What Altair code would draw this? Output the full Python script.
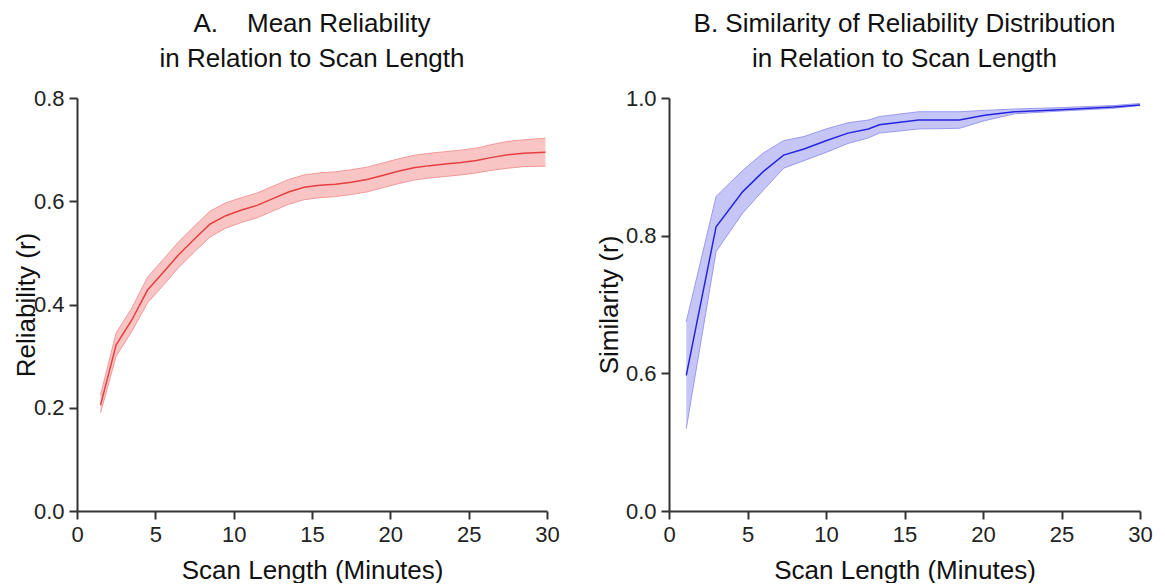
import altair as alt
import pandas as pd

# ---- Panel A: mean reliability ----
a_minutes = [1.5, 2.5, 3.5, 4.5, 5.5, 6.5, 7.5, 8.5, 9.5, 10.5, 11.5, 12.5, 13.5, 14.5,
             15.5, 16.5, 17.5, 18.5, 19.5, 20.5, 21.5, 22.5, 23.5, 24.5, 25.5, 26.5,
             27.5, 28.5, 29.9]
a_mean = [0.205, 0.322, 0.37, 0.428, 0.462, 0.497, 0.527, 0.556, 0.572, 0.583, 0.592,
          0.605, 0.618, 0.627, 0.631, 0.633, 0.637, 0.642, 0.65, 0.658, 0.665, 0.669,
          0.672, 0.675, 0.679, 0.685, 0.69, 0.693, 0.695]
a_lower = [0.19, 0.30, 0.348, 0.403, 0.437, 0.472, 0.502, 0.531, 0.548, 0.559, 0.568,
           0.581, 0.594, 0.603, 0.607, 0.609, 0.613, 0.618, 0.626, 0.634, 0.641, 0.645,
           0.648, 0.651, 0.655, 0.66, 0.664, 0.667, 0.668]
a_upper = [0.225, 0.345, 0.393, 0.453, 0.487, 0.522, 0.552, 0.581, 0.597, 0.607, 0.616,
           0.629, 0.642, 0.651, 0.655, 0.657, 0.661, 0.666, 0.674, 0.682, 0.689, 0.693,
           0.696, 0.699, 0.703, 0.71, 0.716, 0.719, 0.722]

# ---- Panel B: similarity of reliability distribution ----
b_minutes = [1.1, 3.0, 4.7, 6.0, 7.3, 8.6, 10.0, 11.4, 12.7, 13.4, 15.9, 18.5, 20.1,
             22.0, 24.9, 28.3, 30.0]
b_mean = [0.597, 0.813, 0.864, 0.893, 0.917, 0.926, 0.938, 0.949, 0.955, 0.961, 0.968,
          0.968, 0.975, 0.980, 0.983, 0.987, 0.990]
b_lower = [0.52, 0.777, 0.833, 0.866, 0.898, 0.909, 0.921, 0.934, 0.942, 0.949, 0.955,
           0.956, 0.967, 0.977, 0.981, 0.985, 0.989]
b_upper = [0.675, 0.857, 0.895, 0.92, 0.938, 0.944, 0.955, 0.964, 0.968, 0.973, 0.98,
           0.98, 0.982, 0.984, 0.986, 0.989, 0.992]

x_ticks = [0, 5, 10, 15, 20, 25, 30]
a_y_ticks = [0.0, 0.2, 0.4, 0.6, 0.8]
b_y_ticks = [0.4, 0.6, 0.8, 1.0]

FONT = "Liberation Sans"
H = 413

df_a = pd.DataFrame({"minutes": a_minutes, "mean": a_mean, "lower": a_lower, "upper": a_upper})
df_b = pd.DataFrame({"minutes": b_minutes, "mean": b_mean, "lower": b_lower, "upper": b_upper})


def panel(df, width, title_lines, y_title, y_scale, y_vals, label_expr, title_x,
          line_color, fill_color, edge_color):
    x_enc = alt.X("minutes:Q",
                  scale=alt.Scale(domain=[0, 30], nice=False, zero=False),
                  axis=alt.Axis(values=x_ticks, title="Scan Length (Minutes)",
                                titleY=67, titleBaseline="alphabetic"))
    y_axis = alt.Axis(values=y_vals, title=y_title, labelExpr=label_expr,
                      titleX=title_x, titleY=H / 2, titleBaseline="middle",
                      titleAngle=270)

    def yenc(field):
        return alt.Y(f"{field}:Q", scale=y_scale, axis=y_axis, title=y_title)

    base = alt.Chart(df)
    band = base.mark_area(color=fill_color, opacity=1).encode(
        x=x_enc, y=yenc("lower"), y2="upper:Q")
    lo = base.mark_line(color=edge_color, strokeWidth=1).encode(x=x_enc, y=yenc("lower"))
    hi = base.mark_line(color=edge_color, strokeWidth=1).encode(x=x_enc, y=yenc("upper"))
    mean = base.mark_line(color=line_color, strokeWidth=1.5).encode(x=x_enc, y=yenc("mean"))
    return alt.layer(band, lo, hi, mean).properties(
        width=width, height=H,
        title=alt.TitleParams(text=title_lines, fontSize=26, font=FONT,
                              fontWeight="normal", color="#111111",
                              lineHeight=35, anchor="middle", offset=15),
    )


pa = panel(df_a, 470,
           ["A.\u00a0\u00a0\u00a0 Mean Reliability", "in Relation to Scan Length"],
           "Reliability (r)",
           alt.Scale(domain=[0, 0.8], nice=False),
           a_y_ticks, "format(datum.value, '.1f')", -51,
           "#e3403f", "#f9c4c4", "#f29a9a")

pb = panel(df_b, 471,
           ["B. Similarity of Reliability Distribution", "in Relation to Scan Length"],
           "Similarity (r)",
           alt.Scale(domain=[0.4, 1.0], nice=False, zero=False),
           b_y_ticks, "datum.value < 0.5 ? '0.0' : format(datum.value, '.1f')", -60,
           "#2525e0", "#c6c6f6", "#9a9af0")

chart = alt.hconcat(pa, pb, spacing=36).properties(
    padding={"left": 5, "top": 3, "right": 0, "bottom": 0}
).configure_view(
    stroke=None
).configure_axis(
    grid=False,
    domainColor="#333333", domainWidth=2,
    tickColor="#333333", tickWidth=2, tickSize=8,
    labelFont=FONT, labelFontSize=22, labelColor="#222222", labelPadding=5,
    titleFont=FONT, titleFontSize=26, titleFontWeight="normal", titleColor="#111111",
    labelFlush=False, labelOverlap=False,
)

chart.save("out.html", embed_options={"renderer": "svg", "actions": False})
